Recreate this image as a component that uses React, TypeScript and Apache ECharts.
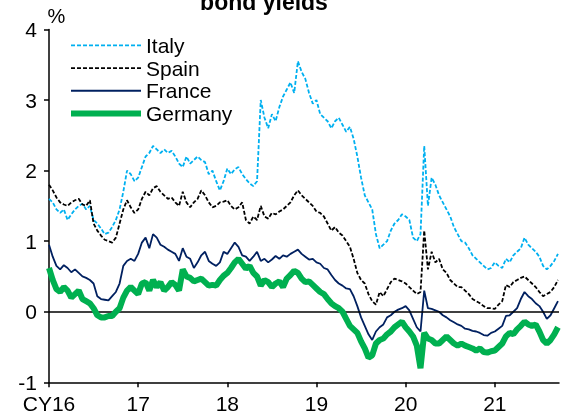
import React, { useEffect, useRef } from "react";
import * as echarts from "echarts";

// Semi-monthly observations, first point = start of Jan 2016
const START_YEAR = 2016;
const STEP = 1 / 24;

const italy = [
  1.60, 1.55, 1.45, 1.40, 1.45, 1.30, 1.38, 1.45, 1.50, 1.53, 1.45, 1.50,
  1.30, 1.25, 1.18, 1.10, 1.12, 1.20, 1.30, 1.45, 1.70, 2.00, 1.95, 1.85,
  1.90, 2.05, 2.20, 2.25, 2.35, 2.30, 2.25, 2.30, 2.25, 2.28, 2.20, 2.10,
  2.05, 2.20, 2.10, 2.15, 2.20, 2.15, 2.12, 1.95, 2.00, 1.85, 1.72, 1.85,
  2.03, 1.95, 2.02, 2.05, 1.95, 1.88, 1.82, 1.78, 1.85, 3.00, 2.75, 2.60,
  2.80, 2.70, 2.90, 3.05, 3.15, 3.25, 3.10, 3.55, 3.40, 3.30, 3.10, 2.95,
  3.00, 2.80, 2.75, 2.70, 2.60, 2.70, 2.75, 2.65, 2.55, 2.62, 2.45, 2.20,
  1.90, 1.65, 1.55, 1.45, 1.10, 0.90, 0.95, 1.00, 1.15, 1.25, 1.30, 1.38,
  1.35, 1.30, 1.05, 1.00, 1.10, 2.35, 1.50, 1.90, 1.80, 1.65, 1.55, 1.45,
  1.35, 1.20, 1.10, 1.00, 0.98, 0.90, 0.80, 0.75, 0.70, 0.65, 0.60, 0.62,
  0.70, 0.65, 0.62, 0.75, 0.70, 0.80, 0.85, 0.90, 1.05, 0.95, 0.90, 0.85,
  0.78, 0.65, 0.60, 0.65, 0.72, 0.82,
];

const spain = [
  1.80, 1.72, 1.62, 1.55, 1.52, 1.50, 1.55, 1.58, 1.60, 1.52, 1.50, 1.58,
  1.25, 1.15, 1.08, 1.02, 1.00, 0.98, 1.05, 1.25, 1.45, 1.58, 1.48, 1.40,
  1.45, 1.60, 1.70, 1.65, 1.75, 1.78, 1.70, 1.65, 1.60, 1.62, 1.55, 1.50,
  1.70, 1.55, 1.48, 1.55, 1.60, 1.72, 1.65, 1.55, 1.48, 1.50, 1.55, 1.56,
  1.58, 1.50, 1.45, 1.48, 1.55, 1.30, 1.25, 1.35, 1.30, 1.50, 1.35, 1.32,
  1.40, 1.38, 1.42, 1.45, 1.50, 1.55, 1.65, 1.72, 1.65, 1.60, 1.55, 1.50,
  1.42, 1.40, 1.35, 1.25, 1.15, 1.20, 1.12, 1.08, 1.00, 0.92, 0.75, 0.55,
  0.45, 0.40, 0.25, 0.15, 0.10, 0.28, 0.22, 0.32, 0.42, 0.47, 0.45, 0.43,
  0.40, 0.35, 0.30, 0.25, 0.28, 1.15, 0.60, 0.85, 0.70, 0.75, 0.60, 0.55,
  0.45, 0.40, 0.35, 0.35, 0.30, 0.25, 0.18, 0.15, 0.12, 0.08, 0.05, 0.05,
  0.04, 0.10, 0.15, 0.38, 0.35, 0.42, 0.45, 0.48, 0.50, 0.45, 0.40, 0.35,
  0.28, 0.22, 0.25, 0.28, 0.35, 0.45,
];

const france = [
  0.95, 0.78, 0.65, 0.60, 0.66, 0.62, 0.56, 0.60, 0.55, 0.50, 0.48, 0.45,
  0.40, 0.22, 0.18, 0.17, 0.16, 0.22, 0.28, 0.40, 0.65, 0.72, 0.75, 0.72,
  0.82, 0.98, 1.05, 0.90, 1.10, 1.05, 0.95, 0.92, 0.88, 0.85, 0.82, 0.72,
  0.90, 0.78, 0.75, 0.62, 0.70, 0.80, 0.85, 0.72, 0.68, 0.65, 0.70, 0.85,
  0.82, 0.90, 0.98, 0.92, 0.80, 0.78, 0.72, 0.78, 0.85, 0.72, 0.75, 0.70,
  0.74, 0.79, 0.75, 0.80, 0.78, 0.82, 0.85, 0.88, 0.82, 0.78, 0.74, 0.75,
  0.70, 0.68, 0.62, 0.60, 0.52, 0.45, 0.40, 0.37, 0.33, 0.32, 0.22, 0.08,
  -0.08, -0.20, -0.32, -0.40, -0.28, -0.22, -0.18, -0.08, -0.05, 0.00, 0.03, 0.05,
  0.08, 0.02, -0.10, -0.22, -0.28, 0.30, 0.05, 0.04, 0.02, 0.00, -0.05, -0.08,
  -0.12, -0.15, -0.18, -0.20, -0.24, -0.25, -0.27, -0.28, -0.30, -0.33, -0.34, -0.30,
  -0.28, -0.24, -0.20, -0.06, -0.05, 0.00, 0.05, 0.18, 0.28, 0.22, 0.18, 0.12,
  0.08, 0.00, -0.10, -0.05, 0.05, 0.15,
];

const germany = [
  0.62, 0.45, 0.32, 0.28, 0.35, 0.30, 0.20, 0.25, 0.30, 0.18, 0.15, 0.12,
  0.05, -0.05, -0.08, -0.08, -0.06, -0.06, 0.00, 0.05, 0.20, 0.30, 0.35, 0.30,
  0.25, 0.40, 0.42, 0.30, 0.45, 0.35, 0.42, 0.30, 0.35, 0.42, 0.38, 0.30,
  0.60, 0.50, 0.48, 0.43, 0.45, 0.47, 0.42, 0.37, 0.38, 0.37, 0.45, 0.51,
  0.55, 0.62, 0.70, 0.75, 0.68, 0.61, 0.65, 0.55, 0.50, 0.37, 0.45, 0.42,
  0.35, 0.40, 0.43, 0.35, 0.47, 0.52, 0.58, 0.55, 0.47, 0.42, 0.43, 0.38,
  0.33, 0.28, 0.25, 0.18, 0.12, 0.08, 0.05, 0.00, -0.10, -0.20, -0.25, -0.30,
  -0.42, -0.52, -0.65, -0.62, -0.45, -0.40, -0.38, -0.32, -0.28, -0.22, -0.18, -0.14,
  -0.22, -0.28, -0.35, -0.48, -0.80, -0.30, -0.38, -0.40, -0.45, -0.45, -0.40, -0.35,
  -0.40, -0.45, -0.48, -0.45, -0.48, -0.50, -0.52, -0.55, -0.52, -0.57, -0.58, -0.56,
  -0.55, -0.50, -0.45, -0.35, -0.30, -0.32, -0.25, -0.20, -0.14, -0.18, -0.20, -0.18,
  -0.28, -0.40, -0.45, -0.40, -0.32, -0.22,
];

const yearTicks = [2016, 2017, 2018, 2019, 2020, 2021];
const yearLabels = ["CY16", "17", "18", "19", "20", "21"];
const seriesNames = ["Italy", "Spain", "France", "Germany"];

const FONT = "Arial, 'Liberation Sans', sans-serif";

const toPoints = (vals: number[]) =>
  vals.map((v, k) => [START_YEAR + k * STEP, v]);

export default function App() {
  const ref = useRef<HTMLDivElement>(null);
  useEffect(() => {
    if (!ref.current) return;
    const chart = echarts.init(ref.current, undefined, { renderer: "svg" });
    const colors = ["#00B0F0", "#000000", "#002060", "#00B050"];
    const widths = [1.8, 1.8, 1.8, 6];
    const types: any[] = [[4, 2], [4, 2], "solid", "solid"];
    const allVals = [italy, spain, france, germany];
    chart.setOption({
      animation: false,
      grid: { left: 49, right: 3, top: 29.5, bottom: 35.7 },
      legend: {
        orient: "vertical",
        left: 68,
        top: 34,
        padding: 0,
        itemWidth: 70,
        itemHeight: 12,
        itemGap: 0,
        textStyle: { fontSize: 21, lineHeight: 22.7, color: "#000", fontFamily: FONT },
        data: seriesNames.map((n, i) => ({
          name: n,
          itemStyle: { opacity: 0 },
          lineStyle: { width: i === 3 ? 6 : 1.8, type: types[i], color: colors[i] },
        })),
      },
      xAxis: {
        type: "value",
        min: 2016,
        max: 2021.72,
        interval: 1,
        splitLine: { show: false },
        axisLine: { show: true, onZero: false, lineStyle: { color: "#000", width: 1.5 } },
        axisTick: {
          show: true,
          length: 5,
          customValues: yearTicks,
          lineStyle: { color: "#000", width: 1.5 },
        },
        axisLabel: {
          customValues: yearTicks,
          fontSize: 21,
          color: "#000",
          fontFamily: FONT,
          margin: 11,
          formatter: (v: number) => yearLabels[yearTicks.indexOf(Math.round(v))] ?? "",
        },
      },
      yAxis: {
        type: "value",
        min: -1,
        max: 4,
        interval: 1,
        splitLine: { show: false },
        axisLine: { show: true, lineStyle: { color: "#000", width: 1.5 } },
        axisTick: { show: true, length: 5, lineStyle: { color: "#000", width: 1.5 } },
        axisLabel: { fontSize: 21, color: "#000", fontFamily: FONT, margin: 12 },
      },
      graphic: [
        {
          type: "text",
          x: 264,
          y: 1.5,
          style: {
            text: "bond yields",
            font: `bold 23px ${FONT}`,
            fill: "#000",
            textAlign: "center",
            textVerticalAlign: "middle",
          },
        },
        {
          type: "text",
          x: 56.5,
          y: 16,
          style: {
            text: "%",
            font: `20px ${FONT}`,
            fill: "#000",
            textAlign: "center",
            textVerticalAlign: "middle",
          },
        },
      ],
      series: seriesNames.map((name, i) => ({
        name,
        type: "line",
        data: toPoints(allVals[i]),
        symbol: "none",
        showSymbol: false,
        lineStyle: { color: colors[i], width: widths[i], type: types[i] },
        itemStyle: { color: colors[i] },
        z: 2 + i,
        markLine:
          i === 0
            ? {
                silent: true,
                symbol: ["none", "none"],
                label: { show: false },
                lineStyle: { color: "#000", width: 1.5, type: "solid" },
                data: [{ yAxis: 0 }],
              }
            : undefined,
      })),
    });
    return () => chart.dispose();
  }, []);
  return (
    <div
      ref={ref}
      style={{ position: "fixed", left: 0, top: 0, width: 562, height: 418 }}
    />
  );
}
